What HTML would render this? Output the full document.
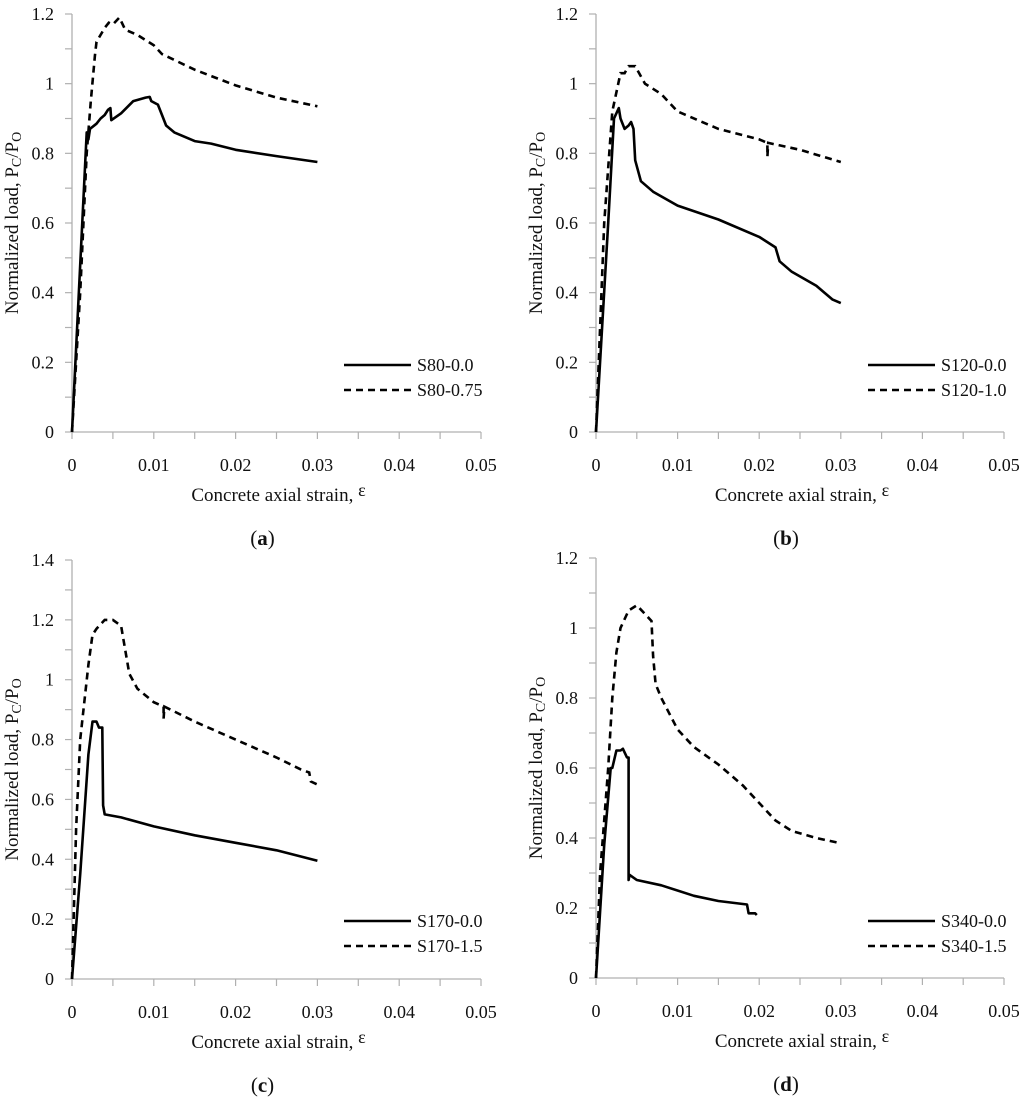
<!DOCTYPE html>
<html><head><meta charset="utf-8"><style>
body{margin:0;background:#fff;}
svg text{font-family:"Liberation Serif",serif;fill:#111;}
</style></head><body>
<svg id="fig" width="1024" height="1098" viewBox="0 0 1024 1098" xmlns="http://www.w3.org/2000/svg"></svg>
<script>
const xTicks=[0,0.01,0.02,0.03,0.04,0.05];
const aSolidX=[0,0.0018,0.002,0.0022,0.003,0.0035,0.004,0.0044,0.0047,0.0048,0.006,0.0075,0.009,0.0095,0.0097,0.0105,0.011,0.0115,0.0125,0.015,0.017,0.02,0.025,0.03];
const aSolidY=[0,0.86,0.84,0.87,0.885,0.9,0.91,0.925,0.93,0.895,0.915,0.95,0.96,0.962,0.95,0.94,0.91,0.88,0.86,0.835,0.828,0.81,0.792,0.775];
const aDashX=[0,0.001,0.0018,0.0023,0.0028,0.003,0.004,0.0045,0.005,0.0058,0.0065,0.008,0.01,0.011,0.015,0.02,0.025,0.03];
const aDashY=[0,0.4,0.8,0.95,1.08,1.12,1.16,1.175,1.17,1.19,1.155,1.14,1.11,1.085,1.04,0.995,0.96,0.935];
const bSolidX=[0,0.0015,0.0022,0.0028,0.003,0.0035,0.004,0.0043,0.0046,0.0048,0.0055,0.007,0.01,0.015,0.02,0.022,0.0225,0.024,0.027,0.028,0.029,0.03];
const bSolidY=[0,0.6,0.9,0.93,0.9,0.87,0.88,0.89,0.87,0.78,0.72,0.69,0.65,0.61,0.56,0.53,0.49,0.46,0.42,0.4,0.38,0.37];
const bDashX=[0,0.001,0.002,0.003,0.0035,0.004,0.0048,0.006,0.008,0.01,0.015,0.02,0.021,0.021,0.0211,0.025,0.03];
const bDashY=[0,0.6,0.92,1.03,1.03,1.05,1.05,1.0,0.97,0.92,0.87,0.84,0.83,0.79,0.83,0.81,0.775];
const cSolidX=[0,0.001,0.002,0.0025,0.003,0.0033,0.0037,0.0038,0.004,0.006,0.01,0.015,0.02,0.025,0.03];
const cSolidY=[0,0.35,0.75,0.86,0.86,0.84,0.84,0.58,0.55,0.54,0.51,0.48,0.455,0.43,0.395];
const cDashX=[0,0.0005,0.001,0.002,0.0025,0.003,0.004,0.005,0.006,0.0065,0.007,0.008,0.01,0.0112,0.0112,0.0113,0.015,0.02,0.025,0.028,0.029,0.0292,0.03];
const cDashY=[0,0.5,0.8,1.05,1.15,1.17,1.2,1.2,1.18,1.1,1.02,0.97,0.925,0.91,0.87,0.91,0.86,0.8,0.74,0.7,0.69,0.66,0.65];
const dSolidX=[0,0.001,0.0018,0.002,0.0025,0.003,0.0033,0.0038,0.004,0.004,0.0041,0.005,0.008,0.012,0.015,0.0185,0.0187,0.0195,0.0197];
const dSolidY=[0,0.38,0.6,0.6,0.65,0.65,0.655,0.63,0.63,0.28,0.295,0.28,0.265,0.235,0.22,0.21,0.185,0.185,0.18];
const dDashX=[0,0.0005,0.001,0.0015,0.002,0.0025,0.003,0.004,0.005,0.006,0.0068,0.007,0.0073,0.008,0.01,0.012,0.015,0.018,0.02,0.022,0.024,0.027,0.03];
const dDashY=[0,0.3,0.45,0.6,0.8,0.93,1.0,1.05,1.065,1.04,1.02,0.92,0.84,0.8,0.71,0.66,0.61,0.55,0.5,0.45,0.42,0.4,0.385];
const NS="http://www.w3.org/2000/svg";
const svg=document.getElementById('fig');
function el(tag,attrs,parent){const e=document.createElementNS(NS,tag);for(const k in attrs)e.setAttribute(k,attrs[k]);(parent||svg).appendChild(e);return e;}
function fmt(v){return v===0?'0':(Math.round(v*100)/100).toString();}
function panel(id,x0,x1,y0,yTop,yMax,solidX,solidY,dashX,dashY,names,legY,letter){
  const g=el('g',{});
  
  
  const sx=v=>x0+(v/0.05)*(x1-x0);
  const sy=v=>y0-(v/yMax)*(y0-yTop);
  const ax=el('path',{d:`M${x0} ${yTop}V${y0}H${x1}`,stroke:'#b0b0b0','stroke-width':1.3,fill:'none'},g);
  
  
  const nT=Math.round(yMax/0.1);
  for(let i=0;i<=nT;i++){const v=i*0.1;el('line',{x1:x0-7,x2:x0,y1:sy(v),y2:sy(v),stroke:'#b0b0b0','stroke-width':1.2},g);
    if(i%2===0){const t=el('text',{x:x0-18,y:sy(v)+6,'text-anchor':'end','font-size':18},g);t.textContent=fmt(v);
      
      }}
  for(let i=0;i<=10;i++){const v=i*0.005;el('line',{x1:sx(v),x2:sx(v),y1:y0,y2:y0+7,stroke:'#b0b0b0','stroke-width':1.2},g);}
  xTicks.forEach(v=>{const t=el('text',{x:sx(v),y:y0+39,'text-anchor':'middle','font-size':18},g);t.textContent=fmt(v);
    
    });
  const xt=el('text',{x:(x0+x1)/2+2,y:y0+69,'text-anchor':'middle','font-size':19},g);
  xt.innerHTML='Concrete axial strain, <tspan font-size="18" dy="-5">ε</tspan>';
  
  
  const yc=(y0+yTop)/2;
  const yt=el('text',{x:0,y:0,'text-anchor':'middle','font-size':19,transform:`translate(${x0-54},${yc}) rotate(-90)`},g);
  yt.innerHTML='Normalized load, P<tspan font-size="14" dy="3">C</tspan><tspan dy="-3">/P</tspan><tspan font-size="14" dy="3">O</tspan>';
  
  
  const path=(xs,ys)=>xs.map((v,i)=>(i?'L':'M')+sx(v).toFixed(1)+' '+sy(ys[i]).toFixed(1)).join('');
  const s=el('path',{d:path(solidX,solidY),stroke:'#000','stroke-width':2.6,fill:'none','stroke-linejoin':'round'},g);
  
  
  const d=el('path',{d:path(dashX,dashY),stroke:'#000','stroke-width':2.6,fill:'none','stroke-dasharray':'7 5'},g);
  
  
  const lx=x0+272;
  [0,1].forEach(k=>{const ly=legY+k*25;
    el('line',{x1:lx,x2:lx+67,y1:ly,y2:ly,stroke:'#000','stroke-width':2.6,'stroke-dasharray':k?'7 5':'none'},g);
    const t=el('text',{x:lx+73,y:ly+6,'font-size':18},g);t.textContent=names[k];
    
    });
  const lab=el('text',{x:(x0+x1)/2-14,y:y0+113,'text-anchor':'middle','font-size':21},g);
  lab.innerHTML='(<tspan font-weight="bold">'+letter+'</tspan>)';
  
  
}
panel('a',72,481,432,14,1.2,aSolidX,aSolidY,aDashX,aDashY,['S80-0.0','S80-0.75'],365,'a');
panel('b',596,1004,432,14,1.2,bSolidX,bSolidY,bDashX,bDashY,['S120-0.0','S120-1.0'],365,'b');
panel('c',72,481,979,560,1.4,cSolidX,cSolidY,cDashX,cDashY,['S170-0.0','S170-1.5'],921,'c');
panel('d',596,1004,978,558,1.2,dSolidX,dSolidY,dDashX,dDashY,['S340-0.0','S340-1.5'],921,'d');
</script>
</body></html>
